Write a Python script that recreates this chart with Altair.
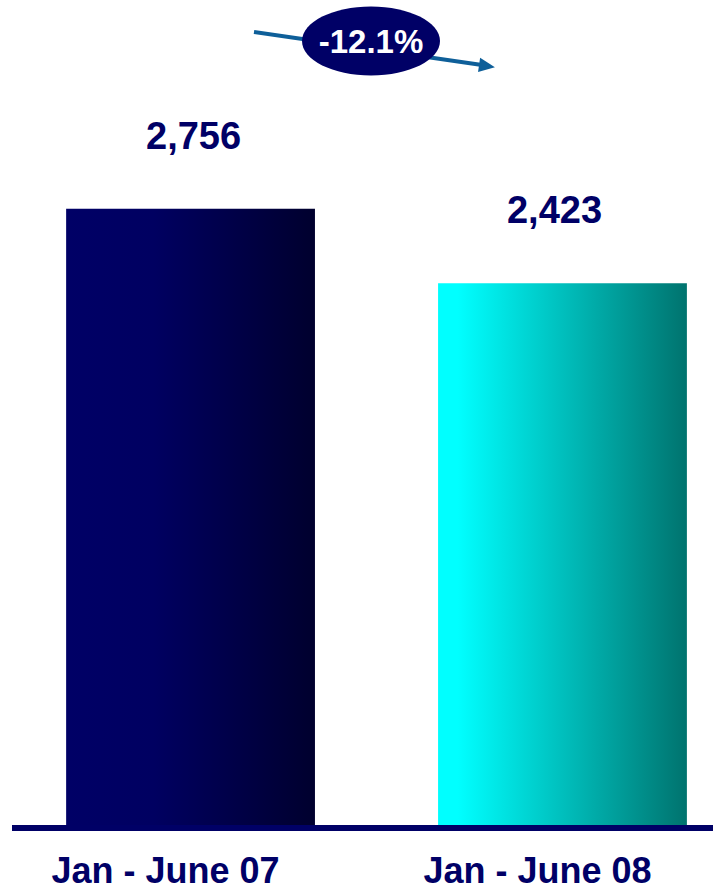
import altair as alt
import pandas as pd

categories = ["Jan - June 07", "Jan - June 08"]
values = [2756, 2423]
value_labels = ["2,756", "2,423"]
change_label = ["-12.1%"]

df = pd.DataFrame({"period": categories, "value": values, "label": value_labels})
df_change = pd.DataFrame({"t": change_label})
df_one = pd.DataFrame({"k": [0]})

NAVY = "#000066"
ARROW = "#0E5F99"
FONT = "Liberation Sans"

x = alt.X(
    "period:N",
    title=None,
    scale=alt.Scale(domain=categories, paddingInner=0.331, paddingOuter=0.124, align=0.717),
    axis=alt.Axis(
        labelAngle=0, labelFont=FONT, labelFontSize=36, labelFontWeight="bold",
        labelColor=NAVY, labelPadding=57, labelBaseline="alphabetic",
        labelOffset=-25, labelLimit=0, ticks=False, tickSize=0, domain=False,
        grid=False,
    ),
)
y = alt.Y("value:Q", scale=alt.Scale(domain=[0, 3690], nice=False, zero=True), axis=None)

g1 = alt.Gradient(
    gradient="linear",
    stops=[
        alt.GradientStop(offset=0, color="#000066"),
        alt.GradientStop(offset=0.35, color="#000061"),
        alt.GradientStop(offset=1, color="#00002E"),
    ],
    x1=0, x2=1, y1=0, y2=0,
)
g2 = alt.Gradient(
    gradient="linear",
    stops=[
        alt.GradientStop(offset=0, color="#00FFFF"),
        alt.GradientStop(offset=0.08, color="#00FFFF"),
        alt.GradientStop(offset=1, color="#00736E"),
    ],
    x1=0, x2=1, y1=0, y2=0,
)

base = alt.Chart(df)

bar1 = base.transform_filter(alt.datum.period == categories[0]).mark_bar(color=g1).encode(x=x, y=y)
bar2 = base.transform_filter(alt.datum.period == categories[1]).mark_bar(color=g2).encode(x=x, y=y)

txt_kw = dict(font=FONT, fontSize=38, fontWeight="bold", color=NAVY, baseline="alphabetic", dy=-60)
lab1 = base.transform_filter(alt.datum.period == categories[0]).mark_text(dx=3, **txt_kw).encode(
    x=x, y=y, text="label:N")
lab2 = base.transform_filter(alt.datum.period == categories[1]).mark_text(dx=-8, **txt_kw).encode(
    x=x, y=y, text="label:N")

baseline = alt.Chart(df_one).mark_rule(color=NAVY, strokeWidth=6).encode(
    x=alt.value(12), x2=alt.value(713), y=alt.value(828))

arrow_line = alt.Chart(df_one).mark_rule(color=ARROW, strokeWidth=4).encode(
    x=alt.value(254), y=alt.value(32), x2=alt.value(482), y2=alt.value(65))
arrow_head = alt.Chart(df_one).mark_point(
    shape="M -1 -0.9 L 1 0 L -1 0.9 Z", filled=True, size=256, angle=8.3,
    color=ARROW, opacity=1, strokeWidth=0,
).encode(x=alt.value(487), y=alt.value(66))

ellipse = alt.Chart(df_one).mark_point(
    shape="M -1 0 A 1 0.5 0 1 1 1 0 A 1 0.5 0 1 1 -1 0 Z",
    filled=True, size=138 * 138, color=NAVY, opacity=1, strokeWidth=0,
).encode(x=alt.value(371), y=alt.value(41))

change_text = alt.Chart(df_change).mark_text(
    font=FONT, fontSize=33, fontWeight="bold", color="white", baseline="alphabetic", align="center",
).encode(x=alt.value(371), y=alt.value(53), text="t:N")

chart = alt.layer(
    bar1, bar2, lab1, lab2, baseline, arrow_line, arrow_head, ellipse, change_text
).properties(
    width=713, height=825, autosize="none",
    padding={"left": 0, "top": 0, "right": 0, "bottom": 65},
).configure_view(strokeWidth=0)

chart.save("out.html", embed_options={"renderer": "svg", "actions": False})
